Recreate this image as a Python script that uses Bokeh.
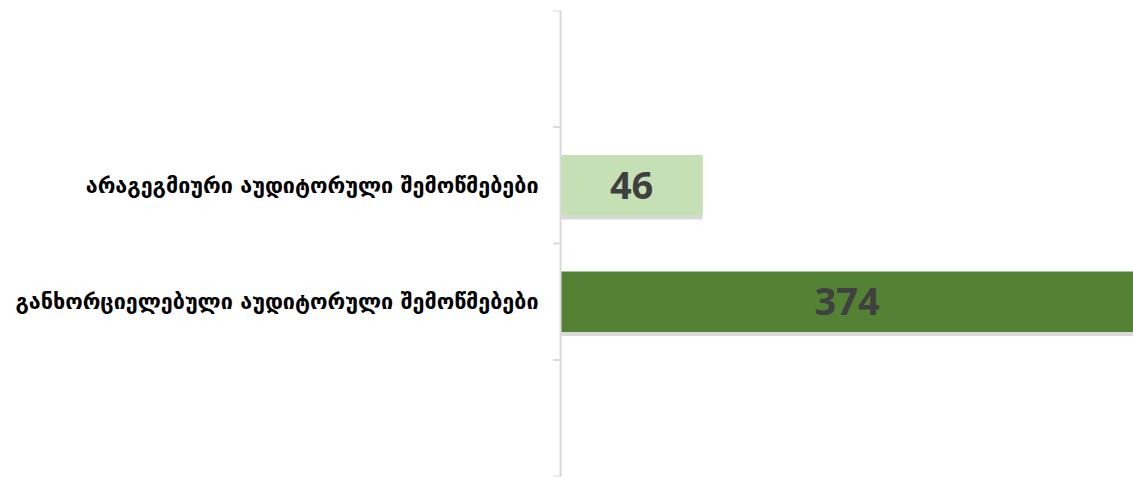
from bokeh.plotting import figure
from bokeh.models import Range1d, FixedTicker, ColumnDataSource, Span
from bokeh.embed import file_html
from bokeh.resources import INLINE
from bokeh.core.properties import value

# ---- data ----
slot_labels = ["", "არაგეგმიური აუდიტორული შემოწმებები", "განხორციელებული აუდიტორული შემოწმებები", ""]
categories = ["არაგეგმიური აუდიტორული შემოწმებები", "განხორციელებული აუდიტორული შემოწმებები"]
counts = [46, 374]
bar_colors = ["#c5e0b4", "#548235"]
x_max = 185.6

n = len(slot_labels)
ys = [n - slot_labels.index(c) - 0.5 for c in categories]
boundaries = list(range(n + 1))

p = figure(width=1133, height=477, output_backend="svg", toolbar_location=None,
           x_range=Range1d(-3.6, x_max), y_range=Range1d(0, n),
           min_border_left=549, min_border_right=0, min_border_top=10, min_border_bottom=1)
p.outline_line_color = None
p.xgrid.visible = False
p.ygrid.visible = False
p.xaxis.visible = False

src = ColumnDataSource(dict(y=ys, v=counts, c=bar_colors,
                            ys=[y - 0.035 for y in ys],
                            lx=[min(v, x_max) / 2 for v in counts],
                            t=[str(v) for v in counts]))

# soft shadow
p.hbar(y="ys", left=0, right="v", height=0.52, source=src, fill_color="#7f7f7f",
       fill_alpha=0.3, line_color=None)
p.hbar(y="y", left=0, right="v", height=0.52, source=src, fill_color="c", line_color=None)

# axis line and boundary ticks
p.add_layout(Span(location=0, dimension="height", line_color="#d9d9d9", line_width=2))
p.segment(x0=[-2.4] * len(boundaries), x1=[0] * len(boundaries), y0=boundaries, y1=boundaries,
          line_color="#d9d9d9", line_width=2)

p.text(x="lx", y="y", text="t", source=src, text_align="center", text_baseline="middle",
       text_font=value("Open Sans"), text_font_style="bold", text_font_size="38px",
       text_color="#404040")

ax = p.yaxis[0]
ax.ticker = FixedTicker(ticks=ys)
ax.major_label_overrides = {y: c for y, c in zip(ys, categories)}
ax.major_tick_line_color = None
ax.minor_tick_line_color = None
ax.axis_line_color = None
ax.major_label_standoff = 5
ax.major_label_text_font = "DejaVu Sans"
ax.major_label_text_font_style = "bold"
ax.major_label_text_font_size = "21.5px"
ax.major_label_text_color = "#000000"

open("out.html", "w").write(file_html(p, INLINE))
